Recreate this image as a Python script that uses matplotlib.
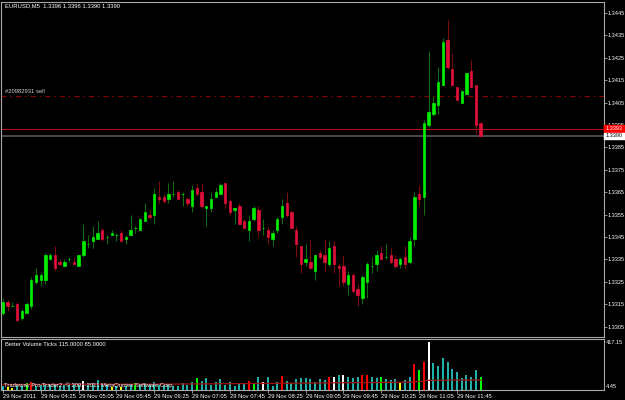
import numpy as np
import matplotlib
matplotlib.use('Agg')
import matplotlib.pyplot as plt
from matplotlib import font_manager
from matplotlib.patches import Rectangle

# EURUSD M5, 29 Nov 2011 (one value per bar, oldest first)
opens = [1.3311, 1.3316, 1.3314, 1.3315, 1.3309, 1.3311, 1.3314, 1.3325, 1.3326, 1.3326,
         1.3335, 1.3337, 1.3334, 1.3332, 1.3335, 1.3334, 1.3332, 1.3337, 1.3342, 1.3343,
         1.3344, 1.3348, 1.3345, 1.3346, 1.3346, 1.3347, 1.3344, 1.3346, 1.3349, 1.3348,
         1.3352, 1.3355, 1.3355, 1.3363, 1.3363, 1.3362, 1.3364, 1.3365, 1.3364, 1.3362,
         1.3359, 1.3367, 1.3365, 1.3358, 1.3358, 1.3363, 1.3364, 1.3369, 1.3361, 1.3357,
         1.3359, 1.3352, 1.3348, 1.3353, 1.3357, 1.3349, 1.3348, 1.3344, 1.3348, 1.3354,
         1.3360, 1.3356, 1.3348, 1.3341, 1.3334, 1.3334, 1.3330, 1.3338, 1.3337, 1.3333,
         1.3341, 1.3332, 1.3332, 1.3324, 1.3328, 1.3322, 1.3318, 1.3325, 1.3332, 1.3333,
         1.3338, 1.3336, 1.3337, 1.3335, 1.3333, 1.3336, 1.3334, 1.3344, 1.3364, 1.3363,
         1.3395, 1.3400, 1.3404, 1.3413, 1.3433, 1.3420, 1.3412, 1.3405, 1.3409, 1.3419,
         1.3413, 1.3396]
highs = [1.3318, 1.3317, 1.3316, 1.3316, 1.3313, 1.3316, 1.3327, 1.3331, 1.3329, 1.3338,
         1.3338, 1.3341, 1.3335, 1.3335, 1.3336, 1.3336, 1.3337, 1.3351, 1.3346, 1.3350,
         1.3352, 1.3349, 1.3346, 1.3348, 1.3347, 1.3348, 1.3346, 1.3355, 1.3350, 1.3353,
         1.3360, 1.3357, 1.3367, 1.3370, 1.3364, 1.3369, 1.3370, 1.3366, 1.3365, 1.3363,
         1.3368, 1.3369, 1.3369, 1.3359, 1.3365, 1.3367, 1.3369, 1.3369, 1.3362, 1.3358,
         1.3360, 1.3353, 1.3355, 1.3359, 1.3359, 1.3353, 1.3350, 1.3348, 1.3354, 1.3362,
         1.3365, 1.3357, 1.3350, 1.3341, 1.3342, 1.3344, 1.3337, 1.3339, 1.3344, 1.3343,
         1.3343, 1.3333, 1.3337, 1.3330, 1.3329, 1.3324, 1.3328, 1.3334, 1.3336, 1.3339,
         1.3341, 1.3342, 1.3340, 1.3337, 1.3336, 1.3341, 1.3345, 1.3365, 1.3368, 1.3397,
         1.3428, 1.3408, 1.3421, 1.3434, 1.3442, 1.3427, 1.3412, 1.3410, 1.3418, 1.3424,
         1.3413, 1.3396]
lows = [1.3310, 1.3312, 1.3314, 1.3307, 1.3308, 1.3311, 1.3313, 1.3324, 1.3323, 1.3324,
        1.3335, 1.3330, 1.3332, 1.3332, 1.3334, 1.3333, 1.3332, 1.3336, 1.3340, 1.3340,
        1.3344, 1.3343, 1.3342, 1.3346, 1.3343, 1.3343, 1.3342, 1.3346, 1.3347, 1.3348,
        1.3352, 1.3353, 1.3351, 1.3360, 1.3360, 1.3360, 1.3363, 1.3362, 1.3359, 1.3359,
        1.3356, 1.3364, 1.3358, 1.3350, 1.3356, 1.3363, 1.3364, 1.3358, 1.3355, 1.3351,
        1.3351, 1.3349, 1.3343, 1.3352, 1.3345, 1.3346, 1.3342, 1.3341, 1.3347, 1.3351,
        1.3354, 1.3349, 1.3336, 1.3329, 1.3332, 1.3331, 1.3326, 1.3335, 1.3330, 1.3332,
        1.3329, 1.3323, 1.3323, 1.3319, 1.3320, 1.3314, 1.3315, 1.3318, 1.3329, 1.3330,
        1.3335, 1.3335, 1.3333, 1.3331, 1.3331, 1.3331, 1.3333, 1.3341, 1.3359, 1.3355,
        1.3394, 1.3399, 1.3400, 1.3413, 1.3420, 1.3413, 1.3406, 1.3405, 1.3409, 1.3412,
        1.3391, 1.3390]
closes = [1.3316, 1.3314, 1.3314, 1.3308, 1.3312, 1.3315, 1.3326, 1.3328, 1.3328, 1.3337,
          1.3337, 1.3331, 1.3333, 1.3334, 1.3335, 1.3333, 1.3337, 1.3343, 1.3342, 1.3345,
          1.3347, 1.3344, 1.3345, 1.3347, 1.3346, 1.3343, 1.3345, 1.3348, 1.3349, 1.3353,
          1.3356, 1.3354, 1.3364, 1.3362, 1.3361, 1.3364, 1.3364, 1.3362, 1.3364, 1.3360,
          1.3366, 1.3364, 1.3359, 1.3359, 1.3362, 1.3365, 1.3368, 1.3360, 1.3356, 1.3358,
          1.3351, 1.3349, 1.3352, 1.3358, 1.3348, 1.3349, 1.3345, 1.3347, 1.3353, 1.3359,
          1.3355, 1.3349, 1.3342, 1.3333, 1.3335, 1.3331, 1.3337, 1.3336, 1.3334, 1.3340,
          1.3333, 1.3331, 1.3325, 1.3328, 1.3321, 1.3319, 1.3327, 1.3333, 1.3332, 1.3337,
          1.3335, 1.3336, 1.3334, 1.3332, 1.3335, 1.3333, 1.3343, 1.3363, 1.3362, 1.3396,
          1.3401, 1.3405, 1.3414, 1.3432, 1.3421, 1.3413, 1.3406, 1.3410, 1.3418, 1.3412,
          1.3395, 1.3390]

# Better Volume ticks and bar type (n neutral, c climax, h churn, w climax+churn, l low)
volume = [37, 23, 17, 37, 37, 60, 66, 37, 43, 52,
          43, 46, 37, 43, 43, 52, 46, 80, 52, 57,
          89, 52, 43, 23, 37, 23, 37, 52, 60, 52,
          57, 43, 71, 52, 43, 43, 37, 37, 57, 43,
          71, 100, 80, 100, 43, 71, 95, 43, 71, 37,
          60, 52, 80, 57, 108, 66, 108, 37, 66, 123,
          80, 60, 95, 100, 100, 95, 66, 95, 90, 116,
          116, 125, 133, 116, 105, 116, 133, 125, 116, 105,
          110, 96, 82, 96, 62, 88, 110, 225, 170, 239,
          417, 234, 205, 277, 239, 182, 153, 101, 131, 114,
          168, 115]
vol_type = ("nllnnhcnnn" "nnnnnnnwnn" "nnnlnlnnhn" "nnnnnnnnnn"
            "nhnnnnnnnn" "nnchnwnnnc" "nnnnnnnnnc" "wnwnnnccnn"
            "hnnnlnnchc" "wnnnnnnnnn" "nh")
# moving average of the volume, read at a few bars
ma_bars = [0, 10, 20, 30, 40, 50, 60, 70, 80, 86, 88, 90, 95, 101]
ma_vals = [48, 49, 50, 50, 52, 55, 58, 62, 65, 68, 74, 83, 85, 85]

time_ticks = [0, 8, 16, 24, 32, 40, 48, 56, 64, 72, 80, 88, 96]
time_labels = ['29 Nov 2011', '29 Nov 04:25', '29 Nov 05:05', '29 Nov 05:45',
               '29 Nov 06:25', '29 Nov 07:05', '29 Nov 07:45', '29 Nov 08:25',
               '29 Nov 09:05', '29 Nov 09:45', '29 Nov 10:25', '29 Nov 11:05',
               '29 Nov 11:45']
price_ticks = [1.3445, 1.3435, 1.3425, 1.3415, 1.3405, 1.3395, 1.3385, 1.3375,
               1.3365, 1.3355, 1.3345, 1.3335, 1.3325, 1.3315, 1.3305]
sell_price = 1.3408
ask_price = 1.3393
bid_price = 1.3390

names = {f.name for f in font_manager.fontManager.ttflist}
plt.rcParams['font.family'] = ('Liberation Sans Narrow' if 'Liberation Sans Narrow' in names
                               else 'Liberation Sans')
FS = 4.2
FS_AX = 4.0
W, H = 625.0, 400.0
GRAY = '#a8a8a8'


def fx(px):
    return px / W


def fy(py):
    return 1 - py / H


fig = plt.figure(figsize=(6.25, 4), dpi=100, facecolor='black')
ax = fig.add_axes([fx(1.5), fy(336.5), fx(603.6) - fx(1.5), fy(1.7) - fy(336.5)])
axv = fig.add_axes([fx(1.5), fy(390), fx(603.6) - fx(1.5), fy(338.5) - fy(390)], sharex=ax)

o = np.array(opens)
h = np.array(highs)
l = np.array(lows)
c = np.array(closes)
x = np.arange(len(o))
up = c >= o
dn = ~up

ax.vlines(x[up], l[up], h[up], color='#0c6e0c', lw=0.75, zorder=2)
ax.vlines(x[dn], l[dn], h[dn], color='#7a0c0c', lw=0.75, zorder=2)
ax.bar(x[up], c[up] - o[up], bottom=o[up], width=0.5, color='#00ee00',
       edgecolor='#00ee00', linewidth=0.5, zorder=3)
ax.bar(x[dn], o[dn] - c[dn], bottom=c[dn], width=0.5, color='#e0103a',
       edgecolor='#e0103a', linewidth=0.5, zorder=3)

# order / price lines
sell = ax.axhline(sell_price, color='#8b0000', lw=0.75, zorder=1)
sell.set_dashes((5, 3.5, 1.5, 4))
ax.axhline(ask_price, color='#b01010', lw=0.8, zorder=1)
ax.axhline(bid_price, color='#4a4a4a', lw=1.4, zorder=1)

ax.set_facecolor('black')
ax.yaxis.tick_right()
ax.set_yticks(price_ticks)
ax.set_yticklabels(['%.4f' % p for p in price_ticks])
ax.set_xlim(-0.3, 127.0)
ax.set_ylim(1.33006, 1.34500)
ax.tick_params(axis='y', colors=GRAY, labelcolor='white', labelsize=FS_AX,
               length=2, width=0.6, pad=0.8)
ax.tick_params(axis='x', bottom=False, labelbottom=False)

# volume window
colmap = {'n': '#20b2aa', 'c': '#ff0000', 'h': '#00ff00', 'w': '#ffffff', 'l': '#ffff00'}
axv.bar(x, volume, width=0.42, color=[colmap[t] for t in vol_type], zorder=2)
axv.plot(ma_bars, ma_vals, color='#a01010', lw=0.9, zorder=3)
axv.set_facecolor('black')
axv.set_yticks([])
axv.set_ylim(0, 443)
axv.set_xticks(time_ticks)
axv.set_xticklabels(time_labels, ha='left')
axv.set_xlim(-0.3, 127.0)
axv.tick_params(axis='x', colors=GRAY, labelcolor='white', labelsize=FS,
                length=2, width=0.6, pad=1.2)

for a in (ax, axv):
    for s in a.spines.values():
        s.set_color(GRAY)
        s.set_linewidth(0.8)

# price label boxes
fig.add_artist(Rectangle((fx(604), fy(132.2)), fx(21), 6.8 / H, color='#ff0000', zorder=5))
fig.text(fx(605.5), fy(128.8), '%.4f' % ask_price, color='white', fontsize=FS_AX,
         va='center', ha='left', zorder=6)
fig.add_artist(Rectangle((fx(604), fy(138.6)), fx(21), 6.0 / H, color='white', zorder=5))
fig.text(fx(605.5), fy(135.6), '%.4f' % bid_price, color='black', fontsize=FS_AX,
         va='center', ha='left', zorder=6)

fig.text(fx(5), fy(6), 'EURUSD,M5  %.4f %.4f %.4f %.4f' % (opens[-1], highs[-1], lows[-1], closes[-1]),
         color='white', fontsize=FS, va='center', ha='left')
fig.text(fx(5), fy(91.5), '#20982931 sell', color='#d0d0d0', fontsize=FS,
         va='center', ha='left')
fig.text(fx(5), fy(344), 'Better Volume Ticks %.4f %.4f' % (volume[-1], ma_vals[-1]),
         color='white', fontsize=FS, va='center', ha='left')
fig.text(fx(606), fy(343), '417.15', color='white', fontsize=FS_AX, va='center', ha='left')
fig.text(fx(606), fy(387), '4.45', color='white', fontsize=FS_AX, va='center', ha='left')
fig.text(fx(4), fy(385.5), 'Tradeway Pro Trader2, \u00a9 2001-2011 MetaQuotes Software Corp.',
         color='white', fontsize=FS, va='center', ha='left', zorder=6)

fig.savefig('out.png', dpi=100, facecolor='black')
